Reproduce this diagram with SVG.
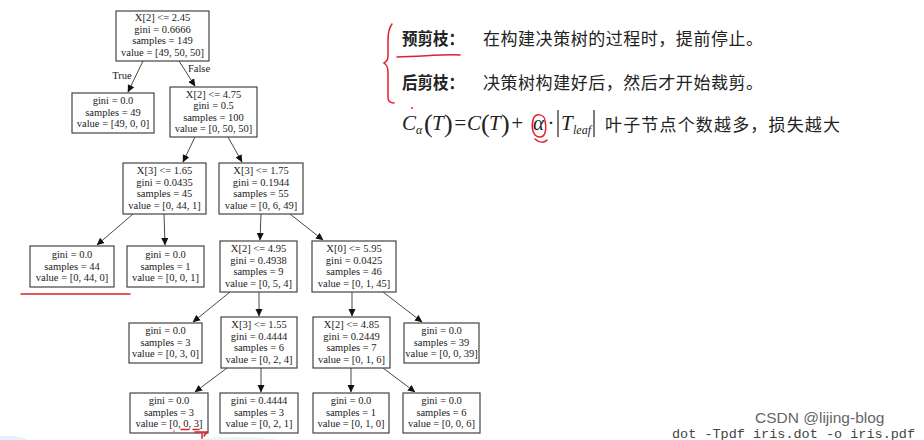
<svg xmlns="http://www.w3.org/2000/svg" width="924" height="440" viewBox="0 0 924 440">
<defs>
<marker id="ah" markerWidth="8" markerHeight="8" refX="7" refY="4" orient="auto" markerUnits="userSpaceOnUse">
<path d="M0,0.5 L7.5,4 L0,7.5 Z" fill="#111"/>
</marker>
<style>
.box{fill:#fff;stroke:#444;stroke-width:1.2}
.t{font-family:"Liberation Serif","Times New Roman",serif;font-size:10.5px;fill:#222;text-anchor:middle}
.e{stroke:#333;stroke-width:0.9;fill:none;marker-end:url(#ah)}
.cn{font-family:"Noto Sans CJK SC",sans-serif;font-size:17px;fill:#222}
.m{font-family:"Liberation Serif","Times New Roman",serif;font-style:italic;fill:#222}
.p{font-family:"Liberation Serif","Times New Roman",serif;fill:#222;font-size:26px}
.red{stroke:#e0202a;stroke-width:1.5;fill:none;stroke-linecap:round}
</style>
</defs>
<rect width="924" height="440" fill="#fff"/>
<g id="edges">
<line class="e" x1="143" y1="61" x2="128" y2="92"/>
<line class="e" x1="179" y1="61" x2="195" y2="86"/>
<line class="e" x1="195" y1="137" x2="183" y2="162"/>
<line class="e" x1="228" y1="137" x2="242" y2="162"/>
<line class="e" x1="133" y1="214" x2="97" y2="245"/>
<line class="e" x1="164" y1="214" x2="165" y2="245"/>
<line class="e" x1="261" y1="214" x2="260" y2="240"/>
<line class="e" x1="290" y1="214" x2="323" y2="240"/>
<line class="e" x1="230" y1="292" x2="193" y2="322"/>
<line class="e" x1="259" y1="292" x2="259" y2="316"/>
<line class="e" x1="352" y1="292" x2="352" y2="316"/>
<line class="e" x1="383" y1="292" x2="422" y2="322"/>
<line class="e" x1="227" y1="368" x2="195" y2="392"/>
<line class="e" x1="261" y1="368" x2="261" y2="392"/>
<line class="e" x1="351" y1="368" x2="351" y2="392"/>
<line class="e" x1="383" y1="368" x2="415" y2="392"/>
<text class="t" x="122" y="79">True</text>
<text class="t" x="199" y="72">False</text>
</g>
<g id="n0"><rect class="box" x="116" y="11" width="93" height="50"/>
<text class="t" x="162.5" y="21">X[2] &lt;= 2.45</text><text class="t" x="162.5" y="32.5">gini = 0.6666</text><text class="t" x="162.5" y="44">samples = 149</text><text class="t" x="162.5" y="55.5">value = [49, 50, 50]</text></g>
<g id="n1"><rect class="box" x="72" y="93" width="82" height="40"/>
<text class="t" x="113" y="104">gini = 0.0</text><text class="t" x="113" y="115.5">samples = 49</text><text class="t" x="113" y="127">value = [49, 0, 0]</text></g>
<g id="n2"><rect class="box" x="170" y="87" width="87" height="50"/>
<text class="t" x="213.5" y="97.5">X[2] &lt;= 4.75</text><text class="t" x="213.5" y="109">gini = 0.5</text><text class="t" x="213.5" y="120.5">samples = 100</text><text class="t" x="213.5" y="132">value = [0, 50, 50]</text></g>
<g id="n3"><rect class="box" x="123" y="163" width="83" height="51"/>
<text class="t" x="164.5" y="174">X[3] &lt;= 1.65</text><text class="t" x="164.5" y="185.5">gini = 0.0435</text><text class="t" x="164.5" y="197">samples = 45</text><text class="t" x="164.5" y="208.5">value = [0, 44, 1]</text></g>
<g id="n4"><rect class="box" x="219" y="163" width="84" height="51"/>
<text class="t" x="261" y="174">X[3] &lt;= 1.75</text><text class="t" x="261" y="185.5">gini = 0.1944</text><text class="t" x="261" y="197">samples = 55</text><text class="t" x="261" y="208.5">value = [0, 6, 49]</text></g>
<g id="n5"><rect class="box" x="30" y="246" width="84" height="41"/>
<text class="t" x="72" y="258">gini = 0.0</text><text class="t" x="72" y="269.5">samples = 44</text><text class="t" x="72" y="281">value = [0, 44, 0]</text></g>
<g id="n6"><rect class="box" x="127" y="246" width="77" height="41"/>
<text class="t" x="165.5" y="258">gini = 0.0</text><text class="t" x="165.5" y="269.5">samples = 1</text><text class="t" x="165.5" y="281">value = [0, 0, 1]</text></g>
<g id="n7"><rect class="box" x="220" y="241" width="77" height="51"/>
<text class="t" x="258.5" y="252">X[2] &lt;= 4.95</text><text class="t" x="258.5" y="263.5">gini = 0.4938</text><text class="t" x="258.5" y="275">samples = 9</text><text class="t" x="258.5" y="286.5">value = [0, 5, 4]</text></g>
<g id="n8"><rect class="box" x="312" y="241" width="84" height="51"/>
<text class="t" x="354" y="252">X[0] &lt;= 5.95</text><text class="t" x="354" y="263.5">gini = 0.0425</text><text class="t" x="354" y="275">samples = 46</text><text class="t" x="354" y="286.5">value = [0, 1, 45]</text></g>
<g id="n9"><rect class="box" x="129" y="323" width="73" height="40"/>
<text class="t" x="165.5" y="334">gini = 0.0</text><text class="t" x="165.5" y="345.5">samples = 3</text><text class="t" x="165.5" y="357">value = [0, 3, 0]</text></g>
<g id="n10"><rect class="box" x="221" y="317" width="76" height="51"/>
<text class="t" x="259" y="328">X[3] &lt;= 1.55</text><text class="t" x="259" y="339.5">gini = 0.4444</text><text class="t" x="259" y="351">samples = 6</text><text class="t" x="259" y="362.5">value = [0, 2, 4]</text></g>
<g id="n11"><rect class="box" x="313" y="317" width="77" height="51"/>
<text class="t" x="351.5" y="328">X[2] &lt;= 4.85</text><text class="t" x="351.5" y="339.5">gini = 0.2449</text><text class="t" x="351.5" y="351">samples = 7</text><text class="t" x="351.5" y="362.5">value = [0, 1, 6]</text></g>
<g id="n12"><rect class="box" x="404" y="323" width="75" height="40"/>
<text class="t" x="441.5" y="334">gini = 0.0</text><text class="t" x="441.5" y="345.5">samples = 39</text><text class="t" x="441.5" y="357">value = [0, 0, 39]</text></g>
<g id="n13"><rect class="box" x="130" y="393" width="78" height="40"/>
<text class="t" x="169" y="404">gini = 0.0</text><text class="t" x="169" y="415.5">samples = 3</text><text class="t" x="169" y="427">value = [0, 0, 3]</text></g>
<g id="n14"><rect class="box" x="220" y="393" width="78" height="40"/>
<text class="t" x="259" y="404">gini = 0.4444</text><text class="t" x="259" y="415.5">samples = 3</text><text class="t" x="259" y="427">value = [0, 2, 1]</text></g>
<g id="n15"><rect class="box" x="313" y="393" width="76" height="40"/>
<text class="t" x="351" y="404">gini = 0.0</text><text class="t" x="351" y="415.5">samples = 1</text><text class="t" x="351" y="427">value = [0, 1, 0]</text></g>
<g id="n16"><rect class="box" x="403" y="393" width="77" height="40"/>
<text class="t" x="441.5" y="404">gini = 0.0</text><text class="t" x="441.5" y="415.5">samples = 6</text><text class="t" x="441.5" y="427">value = [0, 0, 6]</text></g>
<g id="notes">
<text class="cn" x="402" y="45" font-weight="bold" textLength="62" lengthAdjust="spacingAndGlyphs">预剪枝：</text>
<text class="cn" x="483" y="45" textLength="280" lengthAdjust="spacing">在构建决策树的过程时，提前停止。</text>
<text class="cn" x="402" y="89" font-weight="bold" textLength="62" lengthAdjust="spacingAndGlyphs">后剪枝：</text>
<text class="cn" x="483" y="89" textLength="280" lengthAdjust="spacing">决策树构建好后，然后才开始裁剪。</text>
<text class="m" x="402" y="130" font-size="21">C</text>
<text class="m" x="416" y="134" font-size="12">α</text>
<text class="p" x="424" y="132">(</text>
<text class="m" x="432" y="130" font-size="21">T</text>
<text class="p" x="444" y="132">)</text>
<text class="m" x="453" y="130" font-size="21" font-style="normal">=</text>
<text class="m" x="467" y="130" font-size="21">C</text>
<text class="p" x="481" y="132">(</text>
<text class="m" x="489" y="130" font-size="21">T</text>
<text class="p" x="501" y="132">)</text>
<text class="m" x="510" y="130" font-size="21" font-style="normal">+</text>
<text class="m" x="533" y="130" font-size="21">α</text>
<text class="m" x="548" y="130" font-size="21" font-style="normal">·</text>
<line x1="558" y1="110" x2="558" y2="137" stroke="#222" stroke-width="1.2"/>
<text class="m" x="561" y="130" font-size="21">T</text>
<text class="m" x="573" y="134" font-size="12">leaf</text>
<line x1="594" y1="110" x2="594" y2="137" stroke="#222" stroke-width="1.2"/>
<text class="cn" x="605" y="131" textLength="235" lengthAdjust="spacing">叶子节点个数越多，损失越大</text>
<text x="755" y="423" font-family="'Liberation Sans',Arial,sans-serif" font-size="15.5" fill="#666">CSDN @lijing-blog</text>
<text x="672" y="437.5" font-family="'Liberation Mono','Courier New',monospace" font-size="13.5" fill="#444">dot -Tpdf iris.dot -o iris.pdf</text>
</g>
<g id="marks">
<path class="red" d="M392,24 C389,28 388,33 388,40 L388,56 C388,60 386,62 384,63 C387,65 388,68 388,72 L388,97 C388,101 390,103 394,103"/>
<path class="red" d="M397,57 C420,57 440,54 460,55"/>
<circle cx="412" cy="108" r="1" fill="#e0202a"/>
<path class="red" d="M545,121 C545,114 535,112 533,120 C531,128 533,136 539,137 C545,138 547,130 545,121 M535,139 C539,143 545,143 547,140"/>
<line class="red" x1="21" y1="294" x2="130" y2="294"/>
<path class="red" d="M181,429.5 L189,429.5 M193,429.5 L199,429.5"/>
<circle cx="174" cy="431" r="0.8" fill="#e0202a"/>
<path class="red" d="M195,432 L207,432 L204,436 M202,434 L202,440"/>
<ellipse cx="6" cy="441" rx="22" ry="5" fill="#e3f2fb"/>
<ellipse cx="236" cy="443" rx="48" ry="6" fill="#e8f4fb"/>
</g>
</svg>
